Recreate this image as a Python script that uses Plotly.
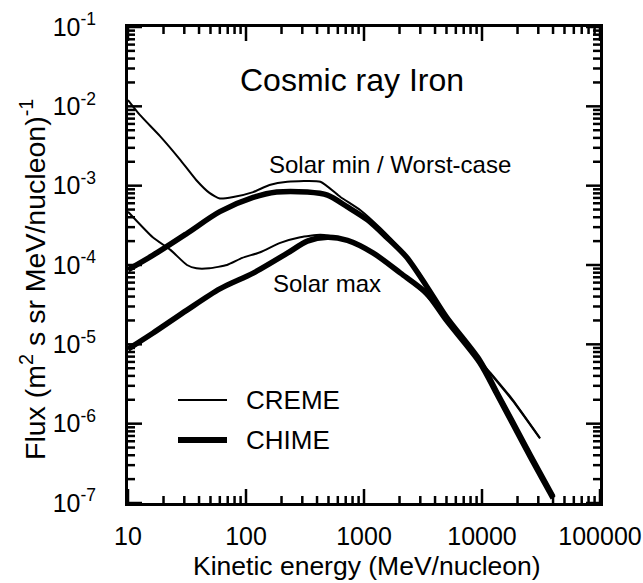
import plotly.graph_objects as go

# Cosmic-ray iron differential flux, MeV/nucleon vs (m^2 s sr MeV/nucleon)^-1
energy_creme_min = [10, 12.6, 18.6, 27.5, 38, 49, 60, 78, 115, 158, 224, 427, 631,
                    933, 1380, 2040, 2950, 5000, 9550, 11750, 18200, 31000]
flux_creme_min = [1.20e-2, 7.8e-3, 4.25e-3, 2.15e-3, 1.17e-3, 8.1e-4, 6.9e-4, 7.2e-4,
                  8.3e-4, 1.02e-3, 1.12e-3, 1.12e-3, 7.2e-4, 4.9e-4, 2.9e-4, 1.58e-4,
                  7.9e-5, 2.2e-5, 6.3e-6, 4.4e-6, 2.0e-6, 6.6e-7]

energy_chime_min = [10, 16.2, 31.6, 60, 115, 182, 331, 490, 724, 1070, 1550, 2290,
                    3390, 5000, 9550, 13500, 18200, 25700, 40000]
flux_chime_min = [8.7e-5, 1.32e-4, 2.5e-4, 4.7e-4, 7.1e-4, 8.3e-4, 8.3e-4, 7.6e-4,
                  5.4e-4, 3.7e-4, 2.24e-4, 1.26e-4, 5.4e-5, 2.2e-5, 6.3e-6, 2.4e-6,
                  1.05e-6, 4.0e-7, 1.2e-7]

energy_creme_max = [10, 16.2, 22.9, 31.6, 38, 49, 69, 93, 132, 195, 288, 427, 631,
                    1070, 1780, 2950, 5000, 9550, 11750, 18200, 31000]
flux_creme_max = [4.7e-4, 2.24e-4, 1.55e-4, 1.0e-4, 9.1e-5, 9.1e-5, 1.0e-4, 1.23e-4,
                  1.45e-4, 1.9e-4, 2.24e-4, 2.4e-4, 2.2e-4, 1.58e-4, 9.1e-5, 5.0e-5,
                  2.1e-5, 6.2e-6, 4.3e-6, 1.95e-6, 6.5e-7]

energy_chime_max = [10, 16.2, 31.6, 60, 115, 224, 331, 490, 724, 1200, 2040, 3390,
                    5000, 9550, 13500, 18200, 25700, 40000]
flux_chime_max = [8.7e-6, 1.38e-5, 2.7e-5, 5.0e-5, 7.9e-5, 1.41e-4, 2.0e-4, 2.24e-4,
                  2.04e-4, 1.41e-4, 7.9e-5, 4.4e-5, 2.0e-5, 5.9e-6, 2.3e-6, 1.0e-6,
                  3.8e-7, 1.15e-7]

x_tick_values = [10, 100, 1000, 10000, 100000]
x_tick_labels = ["10", "100", "1000", "10000", "100000"]
y_tick_values = [1e-7, 1e-6, 1e-5, 1e-4, 1e-3, 1e-2, 1e-1]
y_tick_labels = ["10<sup>-7</sup>", "10<sup>-6</sup>", "10<sup>-5</sup>",
                 "10<sup>-4</sup>", "10<sup>-3</sup>", "10<sup>-2</sup>",
                 "10<sup>-1</sup>"]

series_names = ["CREME", "CHIME"]

FONT = "Liberation Sans, Arial, Helvetica, sans-serif"
W, H = 643, 583
L, R, T, B = 128, 43, 27, 80
PW, PH = W - L - R, H - T - B
X_LOG = (1, 5)
Y_LOG = (-7, -1)


def px(x):
    return (x - L) / PW


def py(y):
    return (H - B - y) / PH


thin = dict(color="black", width=2)
thick = dict(color="black", width=5.5)

fig = go.Figure()
for e, f, ln, sm in [
    (energy_creme_min, flux_creme_min, thin, 0.5),
    (energy_creme_max, flux_creme_max, thin, 0.5),
    (energy_chime_min, flux_chime_min, thick, 0.8),
    (energy_chime_max, flux_chime_max, thick, 0.8),
]:
    fig.add_trace(go.Scatter(x=e, y=f, mode="lines", showlegend=False,
                             line=dict(shape="spline", smoothing=sm, **ln)))

# inward tick marks on all four sides (decades long, 2..9 short)
x_minor = [m * 10 ** d for d in range(1, 5) for m in range(2, 10)]
y_minor = [m * 10.0 ** d for d in range(-7, -1) for m in range(2, 10)]
x_per_px = (X_LOG[1] - X_LOG[0]) / PW
y_per_px = (Y_LOG[1] - Y_LOG[0]) / PH

tx, ty = [], []
for vals, length in [(x_tick_values, 14), (x_minor, 7)]:
    for v in vals:
        tx += [v, v, None, v, v, None]
        ty += [10.0 ** Y_LOG[0], 10.0 ** (Y_LOG[0] + length * y_per_px), None,
               10.0 ** Y_LOG[1], 10.0 ** (Y_LOG[1] - length * y_per_px), None]
for vals, length in [(y_tick_values, 14), (y_minor, 7)]:
    for v in vals:
        tx += [10.0 ** X_LOG[0], 10.0 ** (X_LOG[0] + length * x_per_px), None,
               10.0 ** X_LOG[1], 10.0 ** (X_LOG[1] - length * x_per_px), None]
        ty += [v, v, None, v, v, None]
fig.add_trace(go.Scatter(x=tx, y=ty, mode="lines", showlegend=False, hoverinfo="skip",
                         line=dict(color="black", width=2.5)))

# axes carry the labels; transparent outside ticks set the label distance
fig.update_layout(
    xaxis=dict(type="log", range=list(X_LOG), tickmode="array", tickvals=x_tick_values,
               ticktext=x_tick_labels, ticks="outside", ticklen=9,
               tickcolor="rgba(0,0,0,0)", showgrid=False, zeroline=False,
               showline=True, linecolor="black", linewidth=3, mirror=True,
               tickfont=dict(family=FONT, size=25, color="black")),
    yaxis=dict(type="log", range=list(Y_LOG), tickmode="array", tickvals=y_tick_values,
               ticktext=y_tick_labels, ticks="outside", ticklen=24,
               tickcolor="rgba(0,0,0,0)", showgrid=False, zeroline=False,
               showline=True, linecolor="black", linewidth=3, mirror=True,
               tickfont=dict(family=FONT, size=25, color="black")),
)

annotations = [
    dict(text="Cosmic ray Iron", x=px(352), y=py(80), size=32),
    dict(text="Solar min / Worst-case", x=px(390), y=py(165), size=24),
    dict(text="Solar max", x=px(327), y=py(283), size=24),
    dict(text="Kinetic energy (MeV/nucleon)", x=px(367), y=py(566), size=26.5),
]
for a in annotations:
    fig.add_annotation(text=a["text"], x=a["x"], y=a["y"], xref="paper", yref="paper",
                       showarrow=False, xanchor="center", yanchor="middle",
                       font=dict(family=FONT, size=a["size"], color="black"))

fig.add_annotation(text="Flux (m<sup>2</sup> s sr MeV/nucleon)<sup>-1</sup>",
                   x=px(33), y=py(280), xref="paper", yref="paper", textangle=-90,
                   showarrow=False, xanchor="center", yanchor="middle",
                   font=dict(family=FONT, size=28.5, color="black"))

# key: line samples with their labels
for name, ypix, w in [(series_names[0], 400, 2), (series_names[1], 440, 6)]:
    fig.add_shape(type="line", xref="paper", yref="paper",
                  x0=px(178), x1=px(227), y0=py(ypix), y1=py(ypix),
                  line=dict(color="black", width=w))
    fig.add_annotation(text=name, x=px(244), y=py(ypix), xref="paper", yref="paper",
                       showarrow=False, xanchor="left", yanchor="middle",
                       font=dict(family=FONT, size=26, color="black"))

fig.update_layout(
    width=W, height=H,
    margin=dict(l=L, r=R, t=T, b=B, autoexpand=False),
    paper_bgcolor="white", plot_bgcolor="white",
    showlegend=False,
)

fig.write_html("out.html")
